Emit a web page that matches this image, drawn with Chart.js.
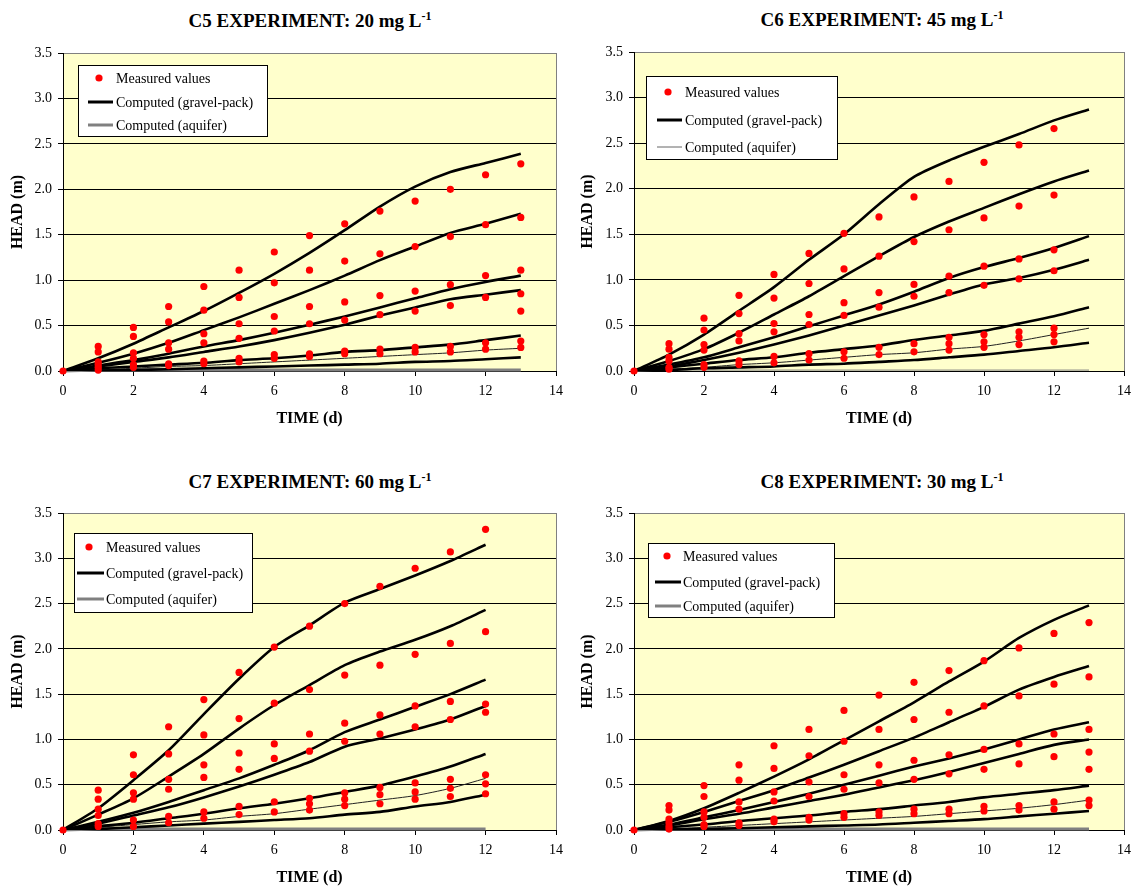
<!DOCTYPE html>
<html>
<head>
<meta charset="utf-8">
<script src="https://cdn.jsdelivr.net/npm/chart.js@4/dist/chart.umd.min.js"></script>
<style>
  body { margin: 0; background: #fff; }
  #page { position: relative; width: 1138px; height: 888px; }
  canvas { position: absolute; }
  .ttl {
    position: absolute; width: 500px; text-align: center;
    font: bold 19px "Liberation Serif", "Times New Roman", serif;
    line-height: 22px; color: #000; white-space: nowrap;
  }
  .ttl sup { font-size: 12px; line-height: 0; vertical-align: 7px; }
</style>
</head>
<body>
<div id="page">
  <div class="ttl" style="left:60px;top:10px">C5 EXPERIMENT: 20 mg L<sup>-1</sup></div>
  <div class="ttl" style="left:632px;top:9px">C6 EXPERIMENT: 45 mg L<sup>-1</sup></div>
  <div class="ttl" style="left:60px;top:471px">C7 EXPERIMENT: 60 mg L<sup>-1</sup></div>
  <div class="ttl" style="left:632px;top:471px">C8 EXPERIMENT: 30 mg L<sup>-1</sup></div>
  <canvas id="c5" width="570" height="440" style="left:0;top:0"></canvas>
  <canvas id="c6" width="568" height="440" style="left:570px;top:0"></canvas>
  <canvas id="c7" width="570" height="448" style="left:0;top:440px"></canvas>
  <canvas id="c8" width="568" height="448" style="left:570px;top:440px"></canvas>
</div>
<script>
// sampling days
const days13 = [0, 1, 2, 3, 4, 5, 6, 7, 8, 9, 10, 11, 12, 13];
const days12 = [0, 1, 2, 3, 4, 5, 6, 7, 8, 9, 10, 11, 12];

const xTicks = [0, 2, 4, 6, 8, 10, 12, 14];
const yTicks = [0.0, 0.5, 1.0, 1.5, 2.0, 2.5, 3.0, 3.5];

// measured heads, one list per day (several wells)
const c5Measured = [
  [0],
  [0.27, 0.21, 0.10, 0.07, 0.04, 0.01],
  [0.48, 0.38, 0.20, 0.14, 0.07, 0.04],
  [0.71, 0.54, 0.31, 0.24, 0.08, 0.06],
  [0.93, 0.67, 0.41, 0.31, 0.11, 0.08],
  [1.11, 0.81, 0.52, 0.36, 0.14, 0.10],
  [1.31, 0.97, 0.60, 0.44, 0.18, 0.14],
  [1.49, 1.11, 0.71, 0.52, 0.19, 0.16],
  [1.62, 1.21, 0.76, 0.56, 0.22, 0.19],
  [1.76, 1.29, 0.83, 0.62, 0.24, 0.19],
  [1.87, 1.37, 0.88, 0.66, 0.26, 0.21],
  [2.00, 1.48, 0.95, 0.72, 0.27, 0.21],
  [2.16, 1.61, 1.05, 0.81, 0.31, 0.24],
  [2.28, 1.69, 1.11, 0.85, 0.66, 0.33, 0.26]
];
const c6Measured = [
  [0],
  [0.30, 0.24, 0.15, 0.11, 0.04, 0.02],
  [0.58, 0.45, 0.29, 0.23, 0.07, 0.04],
  [0.83, 0.63, 0.41, 0.33, 0.11, 0.07],
  [1.06, 0.80, 0.52, 0.43, 0.16, 0.09],
  [1.29, 0.96, 0.62, 0.51, 0.19, 0.12],
  [1.51, 1.12, 0.75, 0.61, 0.21, 0.14],
  [1.69, 1.26, 0.86, 0.70, 0.26, 0.18],
  [1.91, 1.42, 0.95, 0.82, 0.30, 0.21],
  [2.08, 1.55, 1.04, 0.86, 0.37, 0.30, 0.23],
  [2.29, 1.68, 1.15, 0.94, 0.40, 0.32, 0.26],
  [2.48, 1.81, 1.23, 1.01, 0.43, 0.37, 0.29],
  [2.66, 1.93, 1.33, 1.10, 0.47, 0.40, 0.32]
];
const c7Measured = [
  [0],
  [0.44, 0.34, 0.23, 0.16, 0.07, 0.04],
  [0.83, 0.61, 0.41, 0.34, 0.11, 0.04],
  [1.14, 0.84, 0.56, 0.45, 0.15, 0.08],
  [1.44, 1.05, 0.72, 0.58, 0.20, 0.13],
  [1.74, 1.23, 0.85, 0.67, 0.26, 0.17],
  [2.02, 1.40, 0.95, 0.79, 0.31, 0.20],
  [2.25, 1.55, 1.06, 0.87, 0.35, 0.29, 0.22],
  [2.50, 1.71, 1.18, 0.98, 0.41, 0.34, 0.27],
  [2.69, 1.82, 1.27, 1.06, 0.47, 0.39, 0.29],
  [2.89, 1.94, 1.37, 1.14, 0.52, 0.42, 0.34],
  [3.07, 2.06, 1.42, 1.22, 0.56, 0.46, 0.37],
  [3.32, 2.19, 1.39, 1.30, 0.61, 0.51, 0.40]
];
const c8Measured = [
  [0],
  [0.27, 0.22, 0.12, 0.08, 0.04, 0.01],
  [0.49, 0.37, 0.20, 0.14, 0.06, 0.04],
  [0.72, 0.55, 0.31, 0.23, 0.08, 0.05],
  [0.93, 0.68, 0.42, 0.32, 0.12, 0.09],
  [1.11, 0.82, 0.53, 0.37, 0.14, 0.11],
  [1.32, 0.98, 0.61, 0.45, 0.18, 0.14],
  [1.49, 1.11, 0.72, 0.52, 0.20, 0.16],
  [1.63, 1.22, 0.77, 0.56, 0.23, 0.18],
  [1.76, 1.30, 0.83, 0.62, 0.23, 0.18],
  [1.87, 1.37, 0.89, 0.67, 0.26, 0.21],
  [2.01, 1.48, 0.95, 0.73, 0.27, 0.22],
  [2.17, 1.61, 1.06, 0.81, 0.31, 0.23],
  [2.29, 1.69, 1.11, 0.86, 0.67, 0.33, 0.27]
];

// computed heads in the gravel pack (thick lines)
const c5Gravel = [
  [0, 0.14, 0.30, 0.48, 0.66, 0.86, 1.07, 1.30, 1.55, 1.81, 2.03, 2.19, 2.29, 2.39],
  [0, 0.09, 0.19, 0.31, 0.45, 0.59, 0.74, 0.89, 1.05, 1.22, 1.37, 1.52, 1.62, 1.73],
  [0, 0.06, 0.12, 0.19, 0.27, 0.34, 0.42, 0.51, 0.60, 0.70, 0.80, 0.90, 0.98, 1.05],
  [0, 0.05, 0.10, 0.15, 0.21, 0.27, 0.34, 0.42, 0.51, 0.61, 0.70, 0.79, 0.84, 0.89],
  [0, 0.03, 0.05, 0.07, 0.09, 0.12, 0.14, 0.17, 0.21, 0.23, 0.26, 0.29, 0.34, 0.39],
  [0, 0.005, 0.01, 0.02, 0.03, 0.04, 0.05, 0.06, 0.07, 0.08, 0.10, 0.11, 0.13, 0.15]
];
const c6Gravel = [
  [0, 0.18, 0.40, 0.66, 0.92, 1.22, 1.50, 1.83, 2.13, 2.31, 2.46, 2.60, 2.75, 2.87],
  [0, 0.11, 0.24, 0.42, 0.62, 0.82, 1.04, 1.26, 1.47, 1.64, 1.79, 1.94, 2.08, 2.20],
  [0, 0.07, 0.15, 0.26, 0.37, 0.49, 0.61, 0.73, 0.87, 1.02, 1.14, 1.24, 1.35, 1.48],
  [0, 0.05, 0.12, 0.20, 0.29, 0.39, 0.50, 0.61, 0.72, 0.84, 0.95, 1.02, 1.11, 1.22],
  [0, 0.04, 0.08, 0.12, 0.15, 0.20, 0.24, 0.28, 0.34, 0.39, 0.44, 0.52, 0.60, 0.70],
  [0, 0.01, 0.03, 0.04, 0.05, 0.07, 0.08, 0.10, 0.12, 0.15, 0.18, 0.22, 0.26, 0.31]
];
const c7Gravel = [
  [0, 0.24, 0.55, 0.88, 1.28, 1.67, 2.02, 2.26, 2.51, 2.66, 2.81, 2.97, 3.15],
  [0, 0.17, 0.35, 0.59, 0.84, 1.12, 1.38, 1.60, 1.82, 1.97, 2.10, 2.25, 2.43],
  [0, 0.09, 0.19, 0.31, 0.44, 0.57, 0.72, 0.88, 1.08, 1.22, 1.36, 1.50, 1.66],
  [0, 0.07, 0.16, 0.25, 0.36, 0.48, 0.61, 0.75, 0.92, 1.01, 1.11, 1.22, 1.37],
  [0, 0.04, 0.08, 0.13, 0.18, 0.24, 0.29, 0.35, 0.42, 0.49, 0.59, 0.70, 0.84],
  [0, 0.01, 0.03, 0.05, 0.07, 0.09, 0.11, 0.13, 0.17, 0.20, 0.26, 0.31, 0.39]
];
const c8Gravel = [
  [0, 0.10, 0.24, 0.41, 0.59, 0.78, 0.99, 1.20, 1.41, 1.64, 1.86, 2.12, 2.32, 2.48],
  [0, 0.09, 0.20, 0.32, 0.44, 0.58, 0.72, 0.87, 1.02, 1.19, 1.36, 1.55, 1.69, 1.81],
  [0, 0.06, 0.14, 0.22, 0.31, 0.40, 0.50, 0.60, 0.70, 0.79, 0.89, 1.00, 1.11, 1.19],
  [0, 0.05, 0.12, 0.18, 0.25, 0.32, 0.39, 0.47, 0.55, 0.64, 0.74, 0.84, 0.94, 1.00],
  [0, 0.03, 0.06, 0.10, 0.13, 0.16, 0.20, 0.23, 0.27, 0.31, 0.36, 0.40, 0.44, 0.49],
  [0, 0.005, 0.01, 0.02, 0.03, 0.04, 0.05, 0.06, 0.08, 0.10, 0.12, 0.15, 0.18, 0.21]
];

// thin computed curve between the two lowest gravel-pack lines
const c5Thin = [0, 0.01, 0.03, 0.05, 0.06, 0.08, 0.10, 0.12, 0.14, 0.16, 0.18, 0.20, 0.23, 0.25];
const c6Thin = [0, 0.02, 0.04, 0.07, 0.09, 0.12, 0.15, 0.18, 0.20, 0.24, 0.27, 0.33, 0.40, 0.47];
const c7Thin = [0, 0.03, 0.06, 0.09, 0.11, 0.15, 0.18, 0.23, 0.28, 0.33, 0.38, 0.46, 0.57];
const c8Thin = [0, 0.01, 0.03, 0.05, 0.07, 0.09, 0.11, 0.13, 0.15, 0.18, 0.21, 0.24, 0.28, 0.33];

// computed heads in the aquifer (grey, stays near zero)
const c5Aquifer = [0, 0.01, 0.01, 0.01, 0.01, 0.01, 0.01, 0.01, 0.01, 0.01, 0.01, 0.01, 0.01, 0.01];
const c6Aquifer = [0, 0.01, 0.01, 0.01, 0.01, 0.01, 0.01, 0.01, 0.01, 0.01, 0.01, 0.01, 0.01, 0.01];
const c7Aquifer = [0, 0.01, 0.01, 0.01, 0.01, 0.01, 0.01, 0.01, 0.01, 0.01, 0.01, 0.01, 0.01];
const c8Aquifer = [0, 0.01, 0.01, 0.01, 0.01, 0.01, 0.01, 0.01, 0.01, 0.01, 0.01, 0.01, 0.01, 0.01];

const SERIF = '"Liberation Serif", "Times New Roman", serif';
Chart.defaults.font.family = SERIF;
Chart.defaults.color = '#000';

const toPoints = (days, vals) => days.map((d, i) => ({ x: d, y: vals[i] }));

function buildDatasets(days, measured, gravel, thin, aquifer, aquiferWidth) {
  const sets = [{
    label: 'Measured values',
    data: measured.flatMap((vals, i) => vals.map(v => ({ x: days[i], y: v }))),
    backgroundColor: '#ff0000',
    borderWidth: 0,
    pointRadius: 3.6,
    clip: false
  }];
  gravel.forEach(g => sets.push({
    label: 'Computed (gravel-pack)',
    data: toPoints(days, g),
    showLine: true,
    borderColor: '#000',
    borderWidth: 2.6,
    pointRadius: 0,
    tension: 0.25
  }));
  sets.push({
    label: 'thin',
    data: toPoints(days, thin),
    showLine: true,
    borderColor: '#222',
    borderWidth: 1,
    pointRadius: 0,
    tension: 0.25
  });
  sets.push({
    label: 'Computed (aquifer)',
    data: toPoints(days, aquifer),
    showLine: true,
    borderColor: '#808080',
    borderWidth: aquiferWidth,
    pointRadius: 0,
    clip: false
  });
  return sets;
}

// yellow plot background
const plotBackground = {
  id: 'plotBackground',
  beforeDraw(chart) {
    const { ctx, chartArea: a } = chart;
    ctx.save();
    ctx.fillStyle = '#ffffcc';
    ctx.fillRect(a.left, a.top, a.right - a.left, a.bottom - a.top);
    ctx.restore();
  }
};

// framed legend sitting inside the plot
const boxLegend = {
  id: 'boxLegend',
  afterDraw(chart, args, opts) {
    const ctx = chart.ctx;
    ctx.save();
    ctx.fillStyle = '#fff';
    ctx.fillRect(opts.left, opts.top, opts.width, opts.height);
    ctx.strokeStyle = '#000';
    ctx.lineWidth = 1;
    ctx.strokeRect(opts.left + 0.5, opts.top + 0.5, opts.width, opts.height);
    ctx.font = '14px ' + SERIF;
    ctx.textBaseline = 'middle';
    opts.items.forEach((it, i) => {
      const y = opts.rows[i];
      if (it.kind === 'point') {
        ctx.fillStyle = '#ff0000';
        ctx.beginPath();
        ctx.arc(opts.markX, y, 3.6, 0, Math.PI * 2);
        ctx.fill();
      } else {
        ctx.strokeStyle = it.color;
        ctx.lineWidth = it.width;
        ctx.beginPath();
        ctx.moveTo(opts.lineX0, y);
        ctx.lineTo(opts.lineX1, y);
        ctx.stroke();
      }
      ctx.fillStyle = '#000';
      ctx.fillText(it.text, opts.textX, y + 1);
    });
    ctx.restore();
  }
};

function makeChart(id, datasets, box, aquiferWidth) {
  new Chart(document.getElementById(id), {
    type: 'scatter',
    data: { datasets },
    options: {
      responsive: false,
      animation: false,
      devicePixelRatio: 1,
      layout: { padding: box.padding },
      plugins: {
        legend: { display: false },
        tooltip: { enabled: false },
        boxLegend: Object.assign({
          items: [
            { kind: 'point', text: 'Measured values' },
            { kind: 'line', text: 'Computed (gravel-pack)', color: '#000', width: 3 },
            { kind: 'line', text: 'Computed (aquifer)', color: aquiferWidth > 1 ? '#808080' : '#666', width: aquiferWidth }
          ]
        }, box.legend)
      },
      scales: {
        x: {
          type: 'linear', min: 0, max: 14,
          afterBuildTicks: s => { s.ticks = xTicks.map(v => ({ value: v })); },
          afterFit: s => { s.height = 57; },
          ticks: { font: { size: 14 }, padding: 7, color: '#000' },
          grid: {
            color: c => c.tick && c.tick.value === 14 ? '#808080' : 'rgba(0,0,0,0)',
            tickColor: '#000', tickLength: 5, lineWidth: 1
          },
          border: { color: '#000', width: 1 },
          title: {
            display: true, text: 'TIME (d)', color: '#000',
            font: { size: 16, weight: 'bold' }, padding: { top: 0, bottom: 0 }
          }
        },
        y: {
          min: 0, max: 3.5,
          afterBuildTicks: s => { s.ticks = yTicks.map(v => ({ value: v })); },
          afterFit: s => { s.width = box.yWidth; },
          ticks: { font: { size: 14 }, padding: 6, color: '#000', callback: v => v.toFixed(1) },
          grid: {
            color: c => c.tick && c.tick.value === 3.5 ? '#808080' : '#000',
            tickColor: '#000', tickLength: 5, lineWidth: 1
          },
          border: { color: '#000', width: 1 },
          title: {
            display: true, text: 'HEAD (m)', color: '#000',
            font: { size: 16, weight: 'bold' }, padding: { top: 8, bottom: 0 }
          }
        }
      }
    },
    plugins: [plotBackground, boxLegend]
  });
}

makeChart('c5', buildDatasets(days13, c5Measured, c5Gravel, c5Thin, c5Aquifer, 3), {
  padding: { top: 53, right: 14, bottom: 12, left: 0 }, yWidth: 63,
  legend: { left: 78, top: 65, width: 189, height: 71, rows: [78, 102, 125], markX: 99, lineX0: 88, lineX1: 113, textX: 116 }
}, 3);
makeChart('c6', buildDatasets(days13, c6Measured, c6Gravel, c6Thin, c6Aquifer, 1), {
  padding: { top: 52, right: 10, bottom: 12, left: 0 }, yWidth: 64,
  legend: { left: 76, top: 76, width: 191, height: 83, rows: [92, 120, 147], markX: 98, lineX0: 87, lineX1: 112, textX: 115 }
}, 1);
makeChart('c7', buildDatasets(days12, c7Measured, c7Gravel, c7Thin, c7Aquifer, 3), {
  padding: { top: 73, right: 14, bottom: 1, left: 0 }, yWidth: 63,
  legend: { left: 74, top: 93, width: 178, height: 79, rows: [107, 133, 159], markX: 89, lineX0: 77, lineX1: 104, textX: 106 }
}, 3);
makeChart('c8', buildDatasets(days13, c8Measured, c8Gravel, c8Thin, c8Aquifer, 3), {
  padding: { top: 73, right: 10, bottom: 1, left: 0 }, yWidth: 64,
  legend: { left: 78, top: 103, width: 186, height: 74, rows: [116, 142, 166], markX: 97, lineX0: 85, lineX1: 111, textX: 113 }
}, 3);
</script>
</body>
</html>
